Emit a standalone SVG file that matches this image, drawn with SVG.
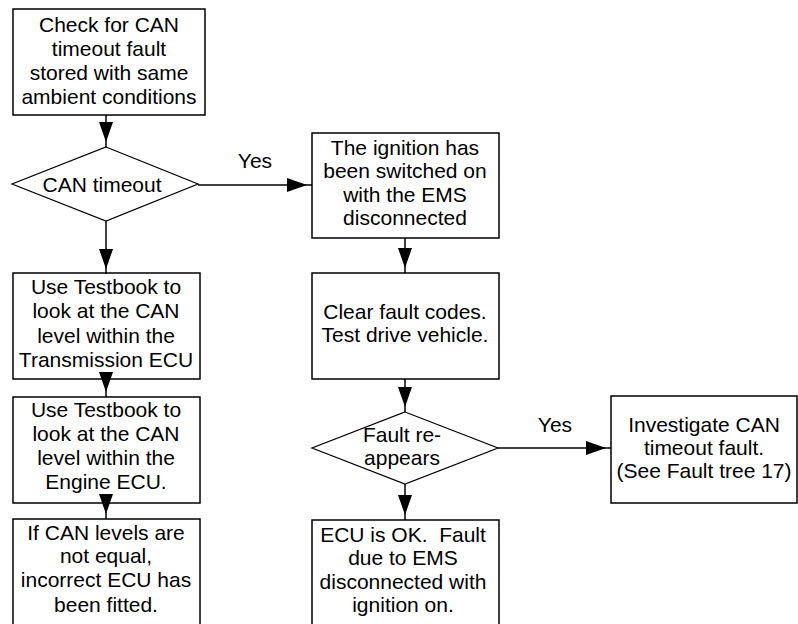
<svg xmlns="http://www.w3.org/2000/svg" width="798" height="624" viewBox="0 0 798 624">
<style>
.box{fill:#fff;stroke:#000;stroke-width:1.5}
.dia{fill:#fff;stroke:#000;stroke-width:1.2}
.con{fill:none;stroke:#000;stroke-width:1.5}
text{font-family:"Liberation Sans",Arial,sans-serif;font-size:21px;fill:#000;text-anchor:middle;white-space:pre}
</style>
<defs>
<marker id="ah" viewBox="0 0 25 14" refX="25" refY="7" markerWidth="25" markerHeight="14" markerUnits="userSpaceOnUse" orient="auto">
<path d="M0,0 L20,7 L0,14 z" fill="#000"/>
</marker>
</defs>
<rect width="798" height="624" fill="#fff"/>
<g id="n1">
<rect class="box" x="13" y="9" width="192" height="106"/>
<text x="109" y="32">Check for CAN</text>
<text x="109" y="56">timeout fault</text>
<text x="109" y="80">stored with same</text>
<text x="109" y="104">ambient conditions</text>
</g>
<g id="d1">
<polygon class="dia" points="106,147 198,184 106,221 12,184"/>
<text x="102" y="192">CAN timeout</text>
</g>
<g id="n2">
<rect class="box" x="13" y="273" width="187" height="106"/>
<text x="106" y="294">Use Testbook to</text>
<text x="106" y="318">look at the CAN</text>
<text x="106" y="343">level within the</text>
<text x="106" y="367">Transmission ECU</text>
</g>
<g id="n3">
<rect class="box" x="13" y="397" width="187" height="106"/>
<text x="106" y="417">Use Testbook to</text>
<text x="106" y="441">look at the CAN</text>
<text x="106" y="465">level within the</text>
<text x="106" y="489">Engine ECU.</text>
</g>
<g id="n4">
<rect class="box" x="13" y="519" width="187" height="120"/>
<text x="106" y="540">If CAN levels are</text>
<text x="106" y="563">not equal,</text>
<text x="106" y="587">incorrect ECU has</text>
<text x="106" y="612">been fitted.</text>
</g>
<g id="n5">
<rect class="box" x="312" y="133" width="187" height="105"/>
<text x="405" y="155">The ignition has</text>
<text x="405" y="178">been switched on</text>
<text x="405" y="202">with the EMS</text>
<text x="405" y="225">disconnected</text>
</g>
<g id="n6">
<rect class="box" x="312" y="273" width="187" height="106"/>
<text x="405" y="319">Clear fault codes.</text>
<text x="405" y="342">Test drive vehicle.</text>
</g>
<g id="d2">
<polygon class="dia" points="405,412 498,448 405,484 312,448"/>
<text x="402" y="442">Fault re-</text>
<text x="402" y="465">appears</text>
</g>
<g id="n7">
<rect class="box" x="312" y="520" width="187" height="120"/>
<text x="403" y="542">ECU is OK.  Fault</text>
<text x="403" y="565">due to EMS</text>
<text x="403" y="589">disconnected with</text>
<text x="403" y="612">ignition on.</text>
</g>
<g id="n8">
<rect class="box" x="611" y="396" width="186" height="107"/>
<text x="704" y="432">Investigate CAN</text>
<text x="704" y="455">timeout fault.</text>
<text x="704" y="478">(See Fault tree 17)</text>
</g>
<g id="connectors">
<line class="con" x1="106" y1="115" x2="106" y2="147" marker-end="url(#ah)"/>
<line class="con" x1="106" y1="221" x2="106" y2="274" marker-end="url(#ah)"/>
<line class="con" x1="106" y1="379" x2="106" y2="397" marker-end="url(#ah)"/>
<line class="con" x1="106" y1="503" x2="106" y2="519" marker-end="url(#ah)"/>
<line class="con" x1="198" y1="185" x2="312" y2="185" marker-end="url(#ah)"/>
<line class="con" x1="405" y1="238" x2="405" y2="273" marker-end="url(#ah)"/>
<line class="con" x1="405" y1="379" x2="405" y2="412" marker-end="url(#ah)"/>
<line class="con" x1="405" y1="484" x2="405" y2="520" marker-end="url(#ah)"/>
<line class="con" x1="498" y1="448" x2="611" y2="448" marker-end="url(#ah)"/>
<text x="255" y="168">Yes</text>
<text x="555" y="432">Yes</text>
</g>
</svg>
